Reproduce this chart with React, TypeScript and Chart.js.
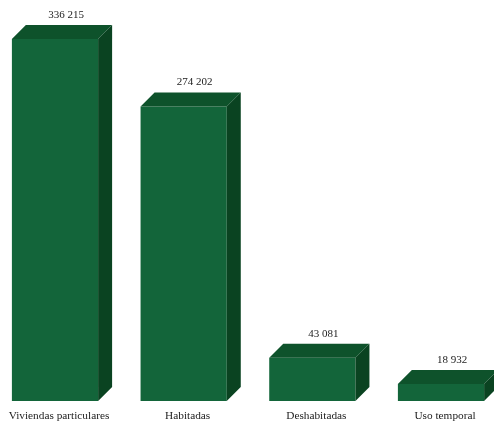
import React, { useEffect, useRef } from "react";
import { Chart, registerables } from "chart.js";

Chart.register(...registerables);

const categories = ["Viviendas particulares", "Habitadas", "Deshabitadas", "Uso temporal"];
const values = [336215, 274202, 43081, 18932];
const valueLabels = ["336 215", "274 202", "43 081", "18 932"];

const FRONT = "#13653a";
const TOP = "#0e522b";
const SIDE = "#0a4321";
const DEPTH = 14;
const AXIS_MIN = 3300;

const box3d = {
  id: "box3d",
  afterDatasetsDraw(chart: any) {
    const ctx = chart.ctx;
    const meta = chart.getDatasetMeta(0);
    ctx.save();
    meta.data.forEach((bar: any, i: number) => {
      const { x, y, width, base } = bar.getProps(["x", "y", "width", "base"], true);
      const l = x - width / 2;
      const r = x + width / 2;
      const t = y;
      const b = base;
      const d = DEPTH;
      ctx.fillStyle = TOP;
      ctx.beginPath();
      ctx.moveTo(l, t);
      ctx.lineTo(l + d, t - d);
      ctx.lineTo(r + d, t - d);
      ctx.lineTo(r, t);
      ctx.closePath();
      ctx.fill();
      ctx.fillStyle = SIDE;
      ctx.beginPath();
      ctx.moveTo(r, t);
      ctx.lineTo(r + d, t - d);
      ctx.lineTo(r + d, b - d);
      ctx.lineTo(r, b);
      ctx.closePath();
      ctx.fill();
      ctx.fillStyle = "#222";
      ctx.font = "11px 'Liberation Serif', serif";
      ctx.textAlign = "center";
      ctx.textBaseline = "middle";
      ctx.fillText(valueLabels[i], x + d / 2 + 4, t - d - 10);
    });
    ctx.restore();
  },
};

export default function App() {
  const ref = useRef<HTMLCanvasElement>(null);
  useEffect(() => {
    if (!ref.current) return;
    const chart = new Chart(ref.current, {
      type: "bar",
      data: {
        labels: categories,
        datasets: [
          {
            data: values,
            backgroundColor: FRONT,
            borderWidth: 0,
            base: AXIS_MIN,
            clip: false,
            categoryPercentage: 1,
            barPercentage: 0.67,
          } as any,
        ],
      },
      options: {
        animation: false,
        responsive: true,
        maintainAspectRatio: false,
        layout: { padding: { left: 55, right: 53, top: 39, bottom: 0 } },
        plugins: { legend: { display: false }, tooltip: { enabled: false } },
        scales: {
          x: {
            offset: false,
            grid: { display: false, drawTicks: false },
            border: { display: false },
            ticks: {
              color: "#222",
              font: { family: "'Liberation Serif', serif", size: 11.3 },
              padding: 8,
              labelOffset: 4,
              maxRotation: 0,
              autoSkip: false,
            },
            afterFit: (scale: any) => {
              scale.paddingLeft = 0;
              scale.paddingRight = 0;
              scale.height = 22;
            },
          },
          y: {
            display: false,
            min: AXIS_MIN,
            max: 336215,
          },
        },
      },
      plugins: [box3d],
    });
    return () => chart.destroy();
  }, []);
  return (
    <div style={{ position: "fixed", left: 0, top: 0, width: 494, height: 423, background: "#fff" }}>
      <canvas ref={ref} />
    </div>
  );
}
